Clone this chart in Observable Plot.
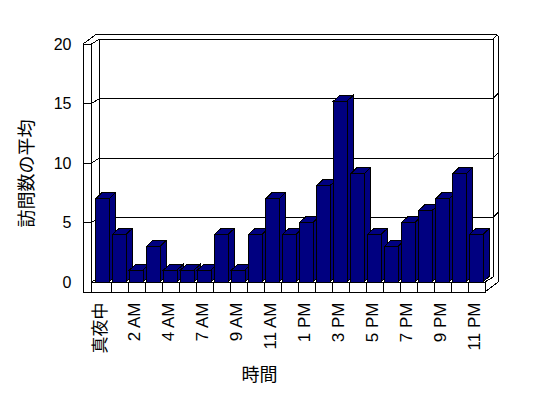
<!DOCTYPE html>
<html><head><meta charset="utf-8">
<script src="https://cdn.jsdelivr.net/npm/d3@7"></script>
<script src="https://cdn.jsdelivr.net/npm/@observablehq/plot@0.6"></script>
<style>body{margin:0;background:#fff;} svg{display:block}</style>
</head><body><div id="chart"></div>
<script>
// ---- data ----
const categories = ["真夜中","1 AM","2 AM","3 AM","4 AM","5 AM","7 AM","8 AM","9 AM","10 AM","11 AM","正午",
  "1 PM","2 PM","3 PM","4 PM","5 PM","6 PM","7 PM","8 PM","9 PM","10 PM","11 PM"];
const visits = [7,4,1,3,1,1,1,4,1,4,7,4,5,8.1,15.2,9.1,4,3,5,6,7,9.1,4];
const xTickLabels = ["真夜中","2 AM","4 AM","7 AM","9 AM","11 AM","1 PM","3 PM","5 PM","7 PM","9 PM","11 PM"];
const yTicks = [0,5,10,15,20];
const yTitle = "訪問数の平均";
const xTitle = "時間";

const data = categories.map((c, i) => ({hour: c, visits: visits[i]}));

// ---- style / geometry ----
const NAVY = "#000080", INK = "#000";
const FONT = "'Liberation Sans','Noto Sans CJK JP',sans-serif";
const WALL = {dx: 8, dy: -5};
const BAR = {dx: 6.5, dy: -6};
const FLOOR_H = 10, WALL_W = 8.5;

function poly(g, pts, fill) {
  g.append("polygon").attr("points", pts.map(p => p.join(",")).join(" "))
    .attr("fill", fill).attr("stroke", INK).attr("stroke-width", 1);
}
function pline(g, pts) {
  g.append("polyline").attr("points", pts.map(p => p.join(",")).join(" "))
    .attr("fill", "none").attr("stroke", INK).attr("stroke-width", 1);
}

const frame = Plot.ruleY(yTicks, {
  render: (index, scales, values, dims) => {
    const x = scales.x, y = scales.y;
    const step = x(categories[1]) - x(categories[0]);
    const xb = x(categories[categories.length - 1]) + step;
    const L = dims.marginLeft, Lw = L + WALL_W;
    const top = d3.max(yTicks);
    const y0 = y(0), yT = y(top), Fb = y0 + FLOOR_H;
    const by = v => y(v) + WALL.dy;
    const bx0 = Lw + WALL.dx, bx1 = xb + WALL.dx;
    const oT = by(top) + WALL.dy, oR = bx1 + 5;
    const g = d3.create("svg:g").attr("shape-rendering", "crispEdges");
    poly(g, [[L, yT], [Lw, yT], [Lw, Fb], [L, Fb]], "#fff");
    pline(g, [[L, yT], [bx0 - 3, oT], [oR - 2, oT], [oR, oT + 2], [oR, by(0) + 5], [xb, Fb]]);
    pline(g, [[Lw, yT], [bx0, by(top)], [bx1, by(top)], [bx1, by(0)], [xb, y0]]);
    pline(g, [[bx1, by(top)], [oR - 1, oT + 1]]);
    pline(g, [[bx0, by(top)], [bx0, by(0)], [Lw, y0]]);
    pline(g, [[Lw, y0], [xb, y0], [xb, Fb], [L, Fb]]);
    for (let i = 1; i < categories.length; i++) {
      const xi = x(categories[i]);
      pline(g, [[xi, y0], [xi, Fb]]);
    }
    for (const v of yTicks) {
      if (v === 0 || v === top) continue;
      pline(g, [[L, y(v)], [Lw, y(v)], [bx0, by(v)], [bx1, by(v)], [oR, by(v) - 5]]);
    }
    return g.node();
  }
});

const bars = Plot.barY(data, {
  x: "hour", y: "visits",
  render: (index, scales) => {
    const x = scales.x, y = scales.y;
    const step = x(categories[1]) - x(categories[0]);
    const g = d3.create("svg:g").attr("shape-rendering", "crispEdges");
    for (const i of index) {
      const x1 = x(data[i].hour) + 1.5, x2 = x1 + step - 3.5;
      const yt = y(data[i].visits), yb = y(0);
      const {dx, dy} = BAR;
      const b = g.append("g");
      poly(b, [[x1, yt], [x2, yt], [x2, yb], [x1, yb]], NAVY);
      poly(b, [[x1, yt], [x1 + dx, yt + dy], [x2 + dx, yt + dy], [x2, yt]], NAVY);
      poly(b, [[x2, yt], [x2 + dx, yt + dy], [x2 + dx, yb + dy], [x2, yb]], NAVY);
    }
    return g.node();
  }
});

const chart = Plot.plot({
  width: 548, height: 398,
  marginLeft: 83, marginRight: 48, marginTop: 34, marginBottom: 106,
  style: {fontFamily: FONT, fontSize: "15px", background: "#fff", color: "#000"},
  x: {type: "band", domain: categories, range: [91.5, 487], padding: 0, axis: null},
  y: {domain: [0, 20], range: [282, 44], axis: null},
  marks: [
    frame,
    bars,
    Plot.axisY(yTicks, {anchor: "left", tickSize: 0, tickPadding: 12, label: null, fontSize: 16, tickFormat: d => d}),
    Plot.axisX(xTickLabels, {anchor: "bottom", tickSize: 0, tickPadding: 10, tickRotate: -90, label: null, fontSize: 17, dx: -2}),
    Plot.text([yTitle], {frameAnchor: "left", textAnchor: "middle", lineAnchor: "middle", rotate: -90, dx: -56, dy: 10, fontSize: 18}),
    Plot.text([xTitle], {frameAnchor: "bottom", textAnchor: "middle", lineAnchor: "middle", dx: -32.5, dy: 83, fontSize: 18})
  ]
});
document.getElementById("chart").append(chart);
</script>
</body></html>
